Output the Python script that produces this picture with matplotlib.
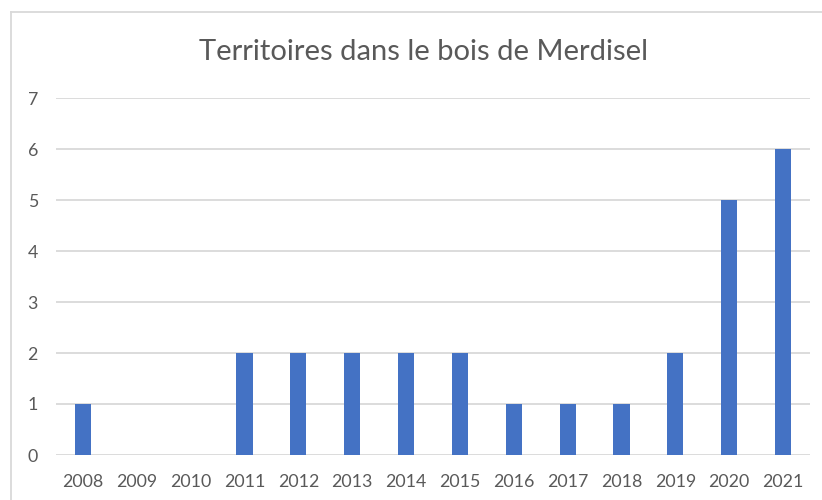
import matplotlib.pyplot as plt
from matplotlib.lines import Line2D

# data
years = ["2008", "2009", "2010", "2011", "2012", "2013", "2014",
         "2015", "2016", "2017", "2018", "2019", "2020", "2021"]
territoires = [1, 0, 0, 2, 2, 2, 2, 2, 1, 1, 1, 2, 5, 6]

plt.rcParams['font.family'] = ['Lato', 'DejaVu Sans']

fig = plt.figure(figsize=(8.22, 5), dpi=100)
ax = fig.add_axes([56 / 822, 1 - 455 / 500, (810 - 56) / 822, (455 - 98) / 500])

ax.bar(years, territoires, width=0.3, color="#4472C4", zorder=3)
ax.set_ylim(0, 7)
ax.set_xlim(-0.5, len(years) - 0.5)
ax.set_yticks(range(0, 8))
ax.grid(axis="y", color="#d9d9d9", linewidth=1.3, zorder=0)
for s in ax.spines.values():
    s.set_visible(False)
ax.tick_params(length=0, colors="#595959", labelsize=12.8)
ax.tick_params(axis="x", pad=14)
ax.tick_params(axis="y", pad=13)

fig.text(0.515, 1 - 52 / 500, "Territoires dans le bois de Merdisel",
         ha="center", va="center", fontsize=21, color="#595959")

# chart frame like excel
fig.add_artist(Line2D([11 / 822, 11 / 822], [0, 1 - 12 / 500],
                      transform=fig.transFigure, color="#d9d9d9", linewidth=1.3))
fig.add_artist(Line2D([11 / 822, 1], [1 - 12 / 500, 1 - 12 / 500],
                      transform=fig.transFigure, color="#d9d9d9", linewidth=1.3))

fig.savefig("out.png", dpi=100)
